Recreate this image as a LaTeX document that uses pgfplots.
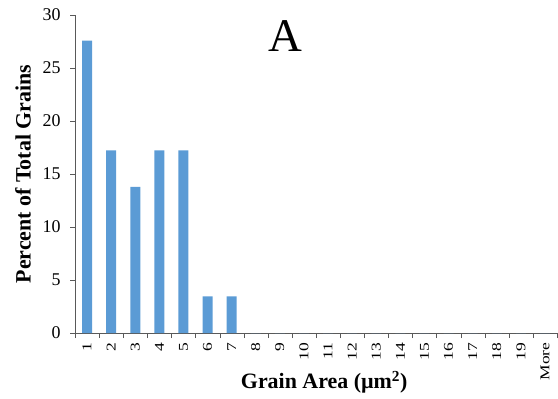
\documentclass[border=0pt]{standalone}
\usepackage{pgfplots}
\pgfplotsset{compat=1.18}
\usepackage{fontspec}
\setmainfont{Liberation Serif}
\definecolor{barblue}{HTML}{5B9BD5}
\begin{document}
\begin{tikzpicture}[x=1bp,y=1bp]
\useasboundingbox (0,0) rectangle (558,398);
\begin{axis}[
  at={(75bp,65bp)}, anchor=south west,
  scale only axis, width=482bp, height=318bp,
  xmin=-0.5, xmax=19.5, ymin=0, ymax=30,
  axis x line*=bottom, axis y line*=left,
  axis line style={draw=gray!70!black, line width=0.6pt},
  xtick={0,...,19},
  xticklabels={1,2,3,4,5,6,7,8,9,10,11,12,13,14,15,16,17,18,19,More},
  major x tick style={draw=none},
  minor xtick={-0.5,0.5,...,19.5},
  minor tick length=5bp,
  minor x tick style={draw=gray!70!black},
  ytick={0,5,...,30},
  major tick length=5bp,
  y tick style={draw=gray!70!black},
  tick align=outside,
  /pgf/number format/assume math mode=true,
  yticklabel style={font=\fontsize{18}{18}\selectfont, xshift=-6bp},
  xticklabel style={font=\fontsize{13.5}{14}\selectfont, rotate=90, xscale=1.3, anchor=east},
  xlabel={\textbf{Grain Area (µm\textsuperscript{2})}},
  xlabel style={font=\fontsize{22}{23}\selectfont, at={(axis description cs:0.517,0)}, anchor=center, yshift=-49bp},
  ylabel={\textbf{Percent of Total Grains}},
  ylabel style={font=\fontsize{22}{23}\selectfont, at={(axis description cs:-0.108,0.5)}, anchor=center},
  ybar, bar width=10bp,
  clip=false,
]
\addplot[fill=barblue, draw=none] coordinates {
 (0,27.59) (1,17.24) (2,13.79) (3,17.24) (4,17.24) (5,3.45) (6,3.45)
 (7,0) (8,0) (9,0) (10,0) (11,0) (12,0) (13,0) (14,0) (15,0) (16,0) (17,0) (18,0) (19,0)
};
\end{axis}
\node[font=\fontsize{47}{47}\selectfont] at (285,362) {A};
\end{tikzpicture}
\end{document}
